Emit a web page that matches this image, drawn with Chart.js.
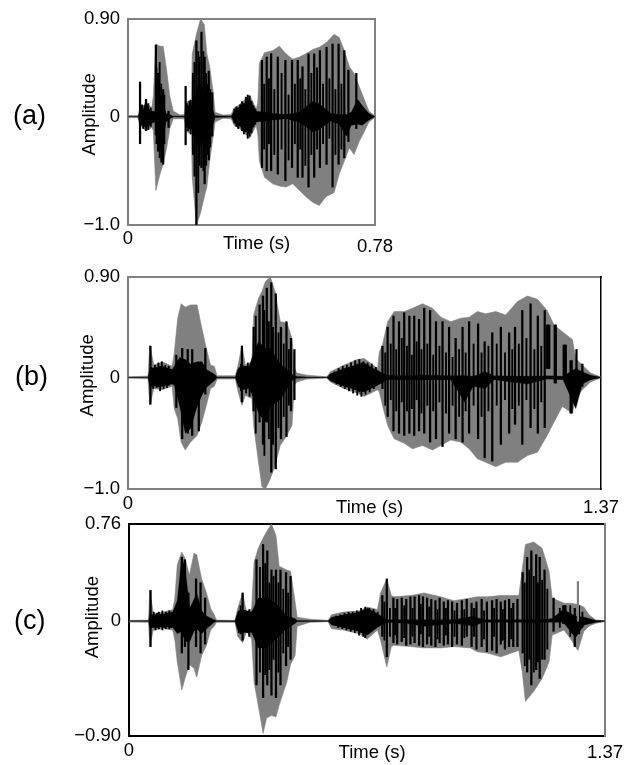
<!DOCTYPE html>
<html>
<head>
<meta charset="utf-8">
<script src="https://cdn.jsdelivr.net/npm/chart.js@4"></script>
<style>
html,body{margin:0;padding:0;background:#fff;width:644px;height:765px;overflow:hidden}
canvas{position:absolute;left:0;top:0;filter:blur(0.5px)}
.tag{position:absolute;font:27px "Liberation Sans",Arial,sans-serif;color:#000;line-height:30px;filter:blur(0.3px)}
</style>
</head>
<body>
<div class="tag" style="left:13px;top:100px">(a)</div>
<div class="tag" style="left:15px;top:361px">(b)</div>
<div class="tag" style="left:14px;top:605px">(c)</div>
<canvas id="ca" width="644" height="765"></canvas>
<canvas id="cb" width="644" height="765"></canvas>
<canvas id="cc" width="644" height="765"></canvas>
<script>
// ---------- Panel (a) ----------
const timesA = [0,.032,.037,.059,.075,.080,.088,.101,.111,.122,
 .132,.143,.165,.179,.183,.200,.203,.216,.229,.241,
 .249,.258,.268,.275,.300,.326,.335,.352,.384,.405,
 .410,.415,.431,.457,.478,.499,.520,.541,.562,.583,
 .604,.625,.651,.667,.683,.699,.714,.730,.746,.761,.78];
const grayHiA = [.01,.01,.07,.13,.08,.19,.67,.65,.65,.43,
 .19,.05,.015,.02,.13,.16,.58,.76,.90,.85,
 .58,.46,.25,.04,.015,.02,.08,.11,.20,.07,
 .13,.49,.59,.61,.65,.58,.53,.55,.58,.62,
 .64,.68,.76,.73,.61,.46,.40,.28,.16,.05,.005];
const grayLoA = [-.01,-.01,-.08,-.13,-.10,-.13,-.68,-.53,-.44,-.29,
 -.11,-.02,-.02,-.02,-.13,-.17,-.56,-1.0,-.89,-.74,
 -.65,-.41,-.20,-.05,-.015,-.02,-.08,-.11,-.20,-.08,
 -.17,-.41,-.56,-.62,-.64,-.65,-.62,-.68,-.74,-.79,
 -.82,-.74,-.70,-.53,-.41,-.29,-.35,-.23,-.14,-.05,-.005];
const coreTimesA = [0,.032,.037,.059,.075,.085,.095,.105,.120,.132,
 .143,.179,.183,.200,.216,.229,.249,.268,.275,.326,
 .335,.384,.405,.431,.457,.499,.541,.583,.604,.640,
 .667,.690,.705,.725,.740,.761,.78];
const coreHiA = [.002,.002,.05,.09,.05,.05,.14,.20,.03,.02,
 .004,.004,.09,.11,.26,.30,.20,.06,.008,.004,
 .05,.16,.05,.04,.03,.02,.04,.14,.12,.03,
 .02,.02,.04,.16,.10,.03,.002];
const coreLoA = [-.002,-.002,-.06,-.10,-.06,-.05,-.14,-.32,-.05,-.02,
 -.004,-.004,-.09,-.11,-.26,-.28,-.22,-.08,-.008,-.004,
 -.05,-.16,-.05,-.04,-.03,-.02,-.05,-.14,-.12,-.04,
 -.07,-.18,-.08,-.07,-.08,-.03,-.002];
const stripeTimesA = [.038,.057,.088,.095,.111,.128,.182,.216,.232,.242,
 .255,.266,.423,.438,.452,.473,.497,.518,.536,.551,
 .570,.588,.606,.627,.646,.665,.683,.696,.721];
const stripeHiA = [.32,.16,.66,.40,.25,.05,.28,.70,.78,.55,
 .42,.22,.52,.55,.58,.55,.52,.52,.52,.46,
 .58,.58,.61,.64,.67,.67,.61,.43,.40];
const stripeLoA = [-.25,-.12,-.17,-.32,-.44,-.10,-.26,-1.0,-.47,-.62,
 -.40,-.18,-.47,-.50,-.50,-.53,-.59,-.47,-.56,-.56,
 -.65,-.56,-.47,-.44,-.65,-.44,-.38,-.23,-.11];
const fineTimesA = [.040,.044,.048,.052,.056,.060,.064,.068,.072,.090,
 .100,.105,.115,.186,.190,.194,.198,.205,.210,.222,
 .226,.238,.247,.252,.260,.336,.342,.348,.354,.360,
 .366,.372,.378,.384,.390,.396,.402,.430,.445,.462,
 .485,.507,.527,.544,.560,.579,.597,.616,.636,.655,.674];
const fineHiA = [.07,.11,.06,.10,.13,.09,.12,.05,.08,.45,
 .50,.30,.20,.12,.09,.14,.15,.40,.50,.60,
 .55,.60,.40,.30,.25,.07,.09,.08,.11,.14,
 .12,.18,.20,.19,.14,.10,.07,.30,.35,.25,
 .40,.20,.30,.35,.25,.40,.45,.30,.35,.25,.30];
const fineLoA = [-.08,-.06,-.11,-.09,-.13,-.08,-.12,-.07,-.09,-.25,
 -.38,-.42,-.25,-.10,-.13,-.11,-.16,-.35,-.55,-.70,
 -.45,-.50,-.45,-.35,-.28,-.06,-.09,-.11,-.08,-.13,
 -.16,-.14,-.20,-.18,-.15,-.09,-.07,-.30,-.25,-.35,
 -.30,-.40,-.25,-.30,-.45,-.35,-.30,-.25,-.20,-.35,-.30];

// ---------- Panel (b) ----------
const timesB = [0,.058,.063,.075,.099,.128,.134,.144,.154,.166,
 .181,.200,.214,.227,.239,.250,.258,.311,.319,.330,
 .340,.359,.364,.378,.388,.398,.412,.426,.441,.460,
 .475,.482,.489,.518,.576,.586,.625,.663,.684,.723,
 .728,.737,.752,.771,.800,.824,.853,.882,.906,.935,
 .964,.988,1.012,1.036,1.065,1.094,1.128,1.157,1.186,1.214,
 1.234,1.258,1.287,1.297,1.316,1.340,1.37];
const grayHiB = [.006,.012,.29,.11,.14,.10,.22,.53,.66,.63,
 .65,.65,.44,.26,.11,.10,.015,.015,.11,.29,
 .11,.14,.56,.71,.77,.86,.90,.77,.50,.49,
 .35,.08,.04,.02,.006,.05,.11,.16,.17,.08,
 .23,.29,.50,.59,.59,.62,.66,.62,.54,.50,
 .53,.54,.59,.57,.59,.56,.68,.73,.70,.60,
 .47,.41,.34,.17,.11,.04,.003];
const grayLoB = [-.006,-.012,-.25,-.10,-.11,-.08,-.28,-.37,-.58,-.65,
 -.58,-.52,-.40,-.25,-.10,-.08,-.015,-.015,-.13,-.25,
 -.16,-.19,-.43,-.76,-.98,-1.0,-.91,-.79,-.61,-.52,
 -.43,-.07,-.04,-.015,-.006,-.04,-.10,-.14,-.17,-.11,
 -.13,-.25,-.43,-.55,-.59,-.64,-.61,-.65,-.61,-.56,
 -.58,-.64,-.73,-.76,-.80,-.76,-.76,-.70,-.67,-.52,
 -.40,-.26,-.32,-.19,-.11,-.04,-.003];
const coreTimesB = [0,.058,.063,.100,.128,.134,.150,.166,.181,.200,
 .214,.227,.250,.258,.311,.319,.330,.350,.364,.378,
 .398,.412,.441,.475,.482,.518,.576,.586,.625,.684,
 .723,.752,.800,.853,.935,.975,1.000,1.035,1.060,1.157,
 1.214,1.260,1.297,1.316,1.340,1.37];
const coreHiB = [.002,.002,.08,.10,.07,.10,.18,.16,.12,.14,
 .14,.07,.03,.004,.004,.08,.11,.09,.22,.32,
 .26,.26,.12,.03,.01,.004,.002,.03,.08,.13,
 .06,.02,.015,.02,.015,.015,.01,.05,.015,.01,
 .015,.01,.08,.05,.02,.002];
const coreLoB = [-.002,-.002,-.08,-.08,-.06,-.07,-.26,-.50,-.46,-.26,
 -.16,-.09,-.03,-.004,-.004,-.08,-.11,-.10,-.18,-.32,
 -.40,-.26,-.20,-.03,-.01,-.004,-.002,-.03,-.08,-.13,
 -.07,-.02,-.02,-.02,-.02,-.22,-.08,-.10,-.02,-.06,
 -.015,-.02,-.28,-.06,-.02,-.002];
const stripeTimesB = [.065,.140,.157,.173,.186,.205,.224,.330,.364,.381,
 .391,.402,.415,.428,.443,.459,.472,.482,.737,.752,
 .769,.785,.800,.815,.829,.843,.858,.875,.892,.911,
 .930,.949,.969,.988,1.014,1.033,1.055,1.080,1.104,1.121,
 1.142,1.166,1.187,1.207,1.214,1.217,1.220,1.236,1.239,1.262,
 1.265,1.268,1.282,1.285,1.299,1.316];
const stripeHiB = [.28,.20,.26,.25,.25,.12,.26,.28,.45,.65,
 .73,.80,.85,.75,.45,.50,.35,.25,.28,.45,
 .55,.50,.58,.55,.55,.52,.62,.60,.50,.50,
 .45,.35,.45,.50,.48,.32,.40,.45,.40,.45,
 .60,.66,.55,.60,.47,.47,.47,.47,.47,.29,
 .29,.29,.15,.15,.25,.12];
const stripeLoB = [-.24,-.27,-.55,-.50,-.52,-.48,-.15,-.22,-.30,-.40,
 -.60,-.40,-.85,-.82,-.55,-.53,-.30,-.20,-.10,-.35,
 -.48,-.50,-.52,-.50,-.52,-.48,-.50,-.58,-.55,-.62,
 -.50,-.55,-.58,-.50,-.55,-.72,-.75,-.60,-.50,-.42,
 -.60,-.45,-.50,-.45,.08,.08,.08,-.05,-.05,0,
 0,0,-.32,-.32,-.10,-.08];
const fineTimesB = [.068,.073,.078,.083,.088,.093,.098,.103,.108,.113,
 .118,.123,.322,.327,.336,.342,.347,.352,.357,.370,
 .395,.408,.420,.436,.451,.466,.592,.598,.604,.610,
 .616,.622,.628,.634,.640,.646,.652,.658,.664,.670,
 .676,.682,.688,.694,.700,.706,.712,.718,.724,.745,
 .761,.777,.793,.808,.822,.836,.850,.867,.884,.902,
 .921,.940,.959,.978,1.001,1.024,1.044,1.068,1.092,1.113,
 1.132,1.154,1.177,1.197];
const fineHiB = [.09,.06,.11,.07,.13,.10,.14,.07,.11,.08,
 .10,.06,.07,.12,.08,.10,.13,.09,.12,.55,
 .60,.50,.45,.40,.30,.25,.03,.05,.04,.08,
 .06,.10,.07,.11,.09,.13,.10,.15,.12,.16,
 .13,.14,.10,.13,.09,.12,.07,.09,.06,.22,
 .30,.25,.35,.28,.20,.32,.25,.30,.20,.28,
 .22,.18,.25,.22,.30,.22,.28,.30,.22,.25,
 .30,.35,.25,.28];
const fineLoB = [-.07,-.10,-.06,-.09,-.08,-.12,-.07,-.10,-.06,-.09,
 -.07,-.05,-.08,-.12,-.10,-.14,-.09,-.17,-.12,-.50,
 -.70,-.55,-.60,-.45,-.35,-.25,-.03,-.04,-.06,-.05,
 -.08,-.06,-.10,-.08,-.12,-.09,-.14,-.11,-.16,-.13,
 -.17,-.12,-.15,-.09,-.13,-.08,-.10,-.07,-.05,-.25,
 -.20,-.30,-.22,-.30,-.28,-.20,-.32,-.25,-.30,-.22,
 -.32,-.25,-.35,-.30,-.25,-.35,-.30,-.25,-.20,-.28,
 -.25,-.20,-.28,-.22];

// ---------- Panel (c) ----------
const timesC = [0,.056,.060,.070,.099,.126,.132,.139,.152,.161,
 .174,.187,.195,.209,.223,.235,.245,.252,.305,.313,
 .327,.339,.353,.360,.372,.386,.396,.410,.423,.432,
 .454,.465,.478,.484,.521,.573,.583,.617,.663,.686,
 .715,.724,.742,.755,.763,.811,.849,.897,.935,.983,
 1.002,1.031,1.070,1.122,1.132,1.141,1.165,1.189,1.209,1.218,
 1.252,1.271,1.292,1.309,1.324,1.343,1.37];
const grayHiC = [.005,.008,.24,.06,.07,.09,.18,.44,.54,.49,
 .36,.53,.52,.33,.22,.10,.05,.008,.005,.10,
 .22,.06,.10,.46,.57,.65,.70,.76,.67,.43,
 .40,.39,.15,.03,.015,.005,.05,.07,.08,.11,
 .09,.22,.33,.20,.19,.20,.22,.19,.16,.18,
 .19,.19,.20,.20,.41,.60,.62,.57,.39,.18,
 .14,.14,.13,.11,.05,.008,.003];
const grayLoC = [-.008,-.01,-.20,-.07,-.06,-.07,-.15,-.32,-.54,-.45,
 -.34,-.37,-.44,-.27,-.19,-.07,-.04,-.01,-.01,-.12,
 -.17,-.08,-.14,-.48,-.66,-.88,-.76,-.74,-.75,-.66,
 -.48,-.34,-.27,-.04,-.01,-.005,-.06,-.07,-.10,-.14,
 -.07,-.15,-.36,-.20,-.19,-.20,-.21,-.21,-.20,-.21,
 -.24,-.25,-.28,-.23,-.40,-.63,-.55,-.45,-.32,-.11,
 -.07,-.14,-.23,-.08,-.04,-.018,-.003];
const coreTimesC = [0,.056,.060,.070,.099,.126,.139,.152,.161,.175,
 .187,.195,.209,.223,.245,.252,.305,.313,.327,.353,
 .372,.396,.423,.454,.478,.484,.573,.583,.663,.686,
 .715,.742,.800,.850,.935,.975,.990,1.020,1.120,1.190,
 1.218,1.250,1.285,1.310,1.343,1.37];
const coreHiC = [.002,.002,.05,.05,.055,.07,.16,.50,.42,.10,
 .17,.22,.08,.04,.01,.003,.003,.07,.09,.07,
 .18,.18,.14,.04,.02,.005,.002,.03,.07,.10,
 .06,.01,.01,.01,.01,.03,.04,.01,.01,.01,
 .02,.09,.04,.03,.007,.002];
const coreLoC = [-.002,-.002,-.05,-.05,-.045,-.05,-.10,-.08,-.16,-.16,
 -.08,-.06,-.10,-.06,-.01,-.003,-.003,-.07,-.09,-.09,
 -.21,-.21,-.14,-.06,-.02,-.005,-.002,-.03,-.08,-.11,
 -.05,-.01,-.02,-.04,-.02,-.03,-.04,-.01,-.01,-.01,
 -.01,-.01,-.13,-.03,-.012,-.002];
const stripeTimesC = [.062,.152,.161,.171,.193,.206,.219,.327,.367,.386,
 .398,.410,.423,.436,.452,.465,.729,.742,.761,.772,
 .785,.798,.810,.822,.835,.846,.858,.870,.882,.894,
 .906,.918,.930,.944,.958,.972,.986,1.000,1.015,1.030,
 1.045,1.058,1.070,1.082,1.094,1.106,1.118,1.133,1.146,1.158,
 1.172,1.182,1.196,1.222,1.250,1.253,1.256,1.283,1.295];
const stripeHiC = [.24,.50,.48,.22,.33,.30,.18,.22,.48,.60,
 .55,.40,.40,.40,.38,.35,.20,.33,.18,.17,
 .18,.17,.19,.19,.20,.19,.18,.17,.16,.18,
 .15,.16,.15,.14,.16,.17,.14,.15,.17,.15,
 .16,.17,.15,.16,.17,.14,.17,.38,.50,.55,
 .52,.50,.40,.18,.12,.12,.12,.10,.12];
const stripeLoC = [-.20,-.25,-.20,-.38,-.20,-.25,-.18,-.15,-.50,-.60,
 -.50,-.58,-.60,-.50,-.35,-.30,-.12,-.28,-.17,-.18,
 -.16,-.19,-.18,-.17,-.19,-.20,-.18,-.19,-.20,-.17,
 -.19,-.18,-.20,-.18,-.19,-.12,-.20,-.22,-.20,-.24,
 -.23,-.25,-.18,-.22,-.20,-.20,-.20,-.25,-.40,-.50,
 -.38,-.45,-.30,-.08,-.02,-.02,-.02,-.20,-.10];
const fineTimesC = [.066,.071,.076,.081,.086,.091,.096,.101,.106,.111,
 .116,.121,.316,.321,.333,.341,.346,.351,.377,.392,
 .404,.416,.430,.444,.458,.590,.596,.602,.608,.614,
 .620,.626,.632,.638,.644,.650,.656,.662,.668,.674,
 .680,.686,.692,.698,.704,.710,.716,.735,.751,.766,
 .792,.816,.840,.864,.888,.912,.937,.965,.993,1.022,
 1.051,1.076,1.100,1.139,1.152,1.165,1.177,1.189,1.204,1.240,
 1.270,1.305];
const fineHiC = [.05,.07,.04,.06,.07,.05,.08,.05,.07,.06,
 .08,.05,.08,.12,.05,.07,.09,.06,.42,.45,
 .30,.35,.30,.25,.22,.02,.04,.03,.05,.04,
 .06,.05,.07,.05,.07,.06,.08,.07,.10,.08,
 .11,.09,.10,.07,.09,.06,.07,.15,.10,.10,
 .12,.10,.13,.11,.09,.10,.08,.09,.10,.08,
 .10,.09,.10,.30,.40,.35,.30,.32,.25,.10,
 .12,.07];
const fineLoC = [-.05,-.04,-.07,-.05,-.06,-.04,-.07,-.05,-.06,-.04,
 -.06,-.05,-.09,-.10,-.07,-.09,-.12,-.08,-.40,-.42,
 -.38,-.30,-.40,-.25,-.20,-.02,-.03,-.05,-.04,-.06,
 -.05,-.07,-.05,-.08,-.06,-.09,-.07,-.11,-.09,-.12,
 -.13,-.10,-.09,-.07,-.06,-.05,-.04,-.15,-.12,-.11,
 -.13,-.12,-.10,-.12,-.14,-.11,-.12,-.13,-.12,-.14,
 -.12,-.15,-.14,-.35,-.30,-.40,-.32,-.30,-.22,-.05,
 -.12,-.05];
const spikeTimesC = [1.292];
const spikeHiC = [.31];
const spikeLoC = [0];

// Tick labels
const yTicksA = [[.90,"0.90"],[0,"0"],[-1.0,"\u22121.0"]];
const yTicksB = [[.90,"0.90"],[0,"0"],[-1.0,"\u22121.0"]];
const yTicksC = [[.76,"0.76"],[0,"0"],[-.90,"\u22120.90"]];
const GRAY = "#808080", BLACK = "#000000";
const FONT = {family:'"Liberation Sans",Arial,sans-serif', size:18.5};

function pts(t, v){ return t.map((x,i)=>({x, y:v[i]})); }
function bars(t, hi, lo){ return t.map((x,i)=>({x, y:[lo[i],hi[i]]})); }

// the "0" label sits higher than the end label, so its axis box must reach past the next axis
const labelRoom = {id:"labelRoom", beforeDraw(chart){ chart.scales.x.bottom = chart.scales.x.top + 30; }};

function panel(id, p){
  const band = (t,v,c,fill,order,w)=>({type:"line", data:pts(t,v), borderColor:c, backgroundColor:c,
    borderWidth:w, pointRadius:0, tension:0, fill: fill?"+1":false, order});
  const ds = [
    band(p.times,p.grayHi,GRAY,true,5,.6), band(p.times,p.grayLo,GRAY,false,5,.6),
    band(p.coreT,p.coreHi,BLACK,true,3,.3), band(p.coreT,p.coreLo,BLACK,false,3,.3),
    {type:"bar", data:bars(p.stripeT,p.stripeHi,p.stripeLo), backgroundColor:BLACK, barThickness:1.6, grouped:false, order:1},
    {type:"bar", data:bars(p.fineT,p.fineHi,p.fineLo), backgroundColor:BLACK, barThickness:1.2, grouped:false, order:2}
  ];
  if(p.spikeT) ds.push({type:"bar", data:bars(p.spikeT,p.spikeHi,p.spikeLo), backgroundColor:GRAY, barThickness:1.5, grouped:false, order:0});
  const map = new Map(p.yTicks);
  const edge = (pos,c,w)=>({type:"linear", position:pos, display:true, weight:0,
    grid:{display:false,drawTicks:false}, ticks:{display:false}, border:{display:true,color:c,width:w},
    afterFit:s=>{ if(pos==="top") s.height=0; else s.width=0; }});
  new Chart(document.getElementById(id), {
    type:"bar",
    data:{datasets:ds},
    plugins:[labelRoom],
    options:{
      responsive:false, animation:false, events:[],
      layout:{autoPadding:false, padding:{left:0, top:p.top, right:644-p.right, bottom:765-p.bottom-p.h1-p.h2}},
      plugins:{legend:{display:false}, tooltip:{enabled:false}},
      scales:{
        x:{type:"linear", position:"bottom", weight:1, min:0, max:p.tMax, offset:false,
          grid:{display:false,drawTicks:false}, border:{display:true,color:p.cBottom,width:2},
          afterBuildTicks:s=>{s.ticks=[{value:0}]},
          ticks:{autoSkip:false,maxRotation:0,padding:p.pad1,color:BLACK,font:FONT,callback:()=> "0"},
          afterFit:s=>{s.height=p.h1}},
        xEnd:{type:"linear", position:"bottom", weight:2, min:0, max:p.tMax, offset:false,
          grid:{display:false,drawTicks:false}, border:{display:false},
          afterBuildTicks:s=>{s.ticks=[{value:p.tMax}]},
          ticks:{autoSkip:false,maxRotation:0,padding:p.pad2,color:BLACK,font:FONT,callback:()=>p.tMax.toFixed(2)},
          title:{display:true,text:p.xTitle,color:BLACK,font:FONT,padding:0},
          afterFit:s=>{s.height=p.h2}},
        y:{type:"linear", position:"left", min:p.yMin, max:p.yMax,
          grid:{display:false,drawTicks:false}, border:{display:true,color:p.cLeft,width:2},
          afterBuildTicks:s=>{s.ticks=p.yTicks.map(a=>({value:a[0]}))},
          ticks:{autoSkip:false,padding:p.yPad,color:BLACK,font:FONT,callback:v=>map.get(v)},
          title:{display:true,text:p.yTitle,color:BLACK,font:FONT,padding:{top:p.yTitleX-11,bottom:0}},
          afterFit:s=>{s.width=p.left}},
        xTop:edge("top",p.cTop,2),
        yRight:edge("right",p.cRight,p.cRight===BLACK?1.5:2)
      }
    }
  });
}

panel("ca",{times:timesA,grayHi:grayHiA,grayLo:grayLoA,coreT:coreTimesA,coreHi:coreHiA,coreLo:coreLoA,
  stripeT:stripeTimesA,stripeHi:stripeHiA,stripeLo:stripeLoA,fineT:fineTimesA,fineHi:fineHiA,fineLo:fineLoA,
  yTicks:yTicksA,tMax:.78,yMin:-1.0,yMax:.90,
  left:128,right:375,top:14,bottom:225,h1:8,h2:22,pad1:3,pad2:3,yPad:8,yTitleX:90,
  cTop:GRAY,cLeft:GRAY,cBottom:GRAY,cRight:GRAY,xTitle:"  Time (s)",yTitle:"   Amplitude"});
panel("cb",{times:timesB,grayHi:grayHiB,grayLo:grayLoB,coreT:coreTimesB,coreHi:coreHiB,coreLo:coreLoB,
  stripeT:stripeTimesB,stripeHi:stripeHiB,stripeLo:stripeLoB,fineT:fineTimesB,fineHi:fineHiB,fineLo:fineLoB,
  yTicks:yTicksB,tMax:1.37,yMin:-1.0,yMax:.90,
  left:128,right:601,top:277,bottom:489,h1:5,h2:25,pad1:4,pad2:3,yPad:8,yTitleX:88,
  cTop:GRAY,cLeft:GRAY,cBottom:GRAY,cRight:BLACK,xTitle:"  Time (s)",yTitle:"   Amplitude"});
panel("cc",{times:timesC,grayHi:grayHiC,grayLo:grayLoC,coreT:coreTimesC,coreHi:coreHiC,coreLo:coreLoC,
  stripeT:stripeTimesC,stripeHi:stripeHiC,stripeLo:stripeLoC,fineT:fineTimesC,fineHi:fineHiC,fineLo:fineLoC,
  spikeT:spikeTimesC,spikeHi:spikeHiC,spikeLo:spikeLoC,
  yTicks:yTicksC,tMax:1.37,yMin:-.90,yMax:.76,
  left:129,right:605,top:524,bottom:736,h1:3,h2:25,pad1:4,pad2:3,yPad:8,yTitleX:93,
  cTop:BLACK,cLeft:BLACK,cBottom:BLACK,cRight:GRAY,xTitle:"  Time (s)",yTitle:"     Amplitude"});
</script>
</body>
</html>
